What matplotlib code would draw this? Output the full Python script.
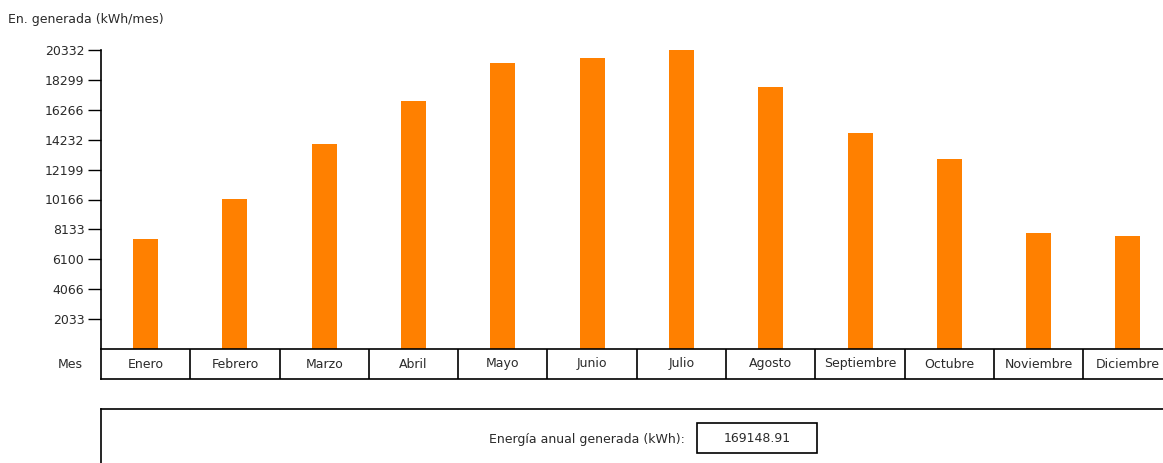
import matplotlib
matplotlib.use("Agg")
import matplotlib.pyplot as plt
from matplotlib.patches import Rectangle

# datos (kWh/mes)
meses = ["Enero", "Febrero", "Marzo", "Abril", "Mayo", "Junio", "Julio",
         "Agosto", "Septiembre", "Octubre", "Noviembre", "Diciembre"]
energia = [7450, 10170, 13950, 16850, 19470, 19780, 20332,
           17830, 14700, 12930, 7900, 7670]
ticks_y = [2033, 4066, 6100, 8133, 10166, 12199, 14232, 16266, 18299, 20332]
etiquetas_y = ["2033", "4066", "6100", "8133", "10166", "12199",
               "14232", "16266", "18299", "20332"]
total_anual = "169148.91"

naranja = "#FF8000"
texto = "#2a2a2a"
W, H = 1163, 463
fs = 9

plt.rcParams["font.family"] = ["DejaVu Sans"]
plt.rcParams["font.size"] = fs

fig = plt.figure(figsize=(W / 100, H / 100), dpi=100)

# ancho de cada celda de mes en píxeles
celda = 89.3
x0 = 101
ancho_ax = celda * len(meses)

def caja(x, y_top, w, h):
    return [x / W, 1 - (y_top + h) / H, w / W, h / H]

# gráfico de barras
ax = fig.add_axes(caja(x0, 50, ancho_ax, 299))
posiciones = [i + 0.5 for i in range(len(meses))]
ax.bar(posiciones, energia, width=0.28, color=naranja, zorder=2)
ax.set_xlim(0, len(meses))
ax.set_ylim(0, 20332)
ax.set_yticks(ticks_y)
ax.set_yticklabels(etiquetas_y)
ax.set_xticks([])
for lado in ["top", "right", "bottom"]:
    ax.spines[lado].set_visible(False)
ax.spines["left"].set_linewidth(1.2)
ax.tick_params(axis="y", length=9.5, width=1.0, pad=2.5, labelsize=fs,
               labelcolor=texto, color="black")
fig.text(8 / W, 1 - 20 / H, "En. generada (kWh/mes)", fontsize=fs,
         va="center", ha="left", color=texto)

# tabla de meses
tabla = fig.add_axes(caja(x0, 349, ancho_ax, 30))
tabla.set_xlim(0, len(meses))
tabla.set_ylim(0, 1)
tabla.set_xticks([])
tabla.set_yticks([])
for s in tabla.spines.values():
    s.set_linewidth(1.2)
for i, m in enumerate(meses):
    if i > 0:
        tabla.axvline(i, color="black", linewidth=1.2)
    tabla.text(i + 0.5, 0.5, m, ha="center", va="center", fontsize=fs, color=texto)
fig.text(70 / W, 1 - 364 / H, "Mes", fontsize=fs, ha="center", va="center", color=texto)

# recuadro inferior con el total anual
abajo = fig.add_axes(caja(x0, 409, 1200, 100))
abajo.set_xticks([])
abajo.set_yticks([])
for s in abajo.spines.values():
    s.set_linewidth(1.2)
fig.text(685 / W, 1 - 439 / H, "Energía anual generada (kWh):", fontsize=fs,
         ha="right", va="center", color=texto)
fig.patches.append(Rectangle((697 / W, 1 - 453 / H), 120 / W, 30 / H,
                             transform=fig.transFigure, fill=False,
                             edgecolor="black", linewidth=1.2))
fig.text(757 / W, 1 - 438 / H, total_anual, fontsize=fs, ha="center",
         va="center", color=texto)

fig.savefig("out.png", dpi=100)
